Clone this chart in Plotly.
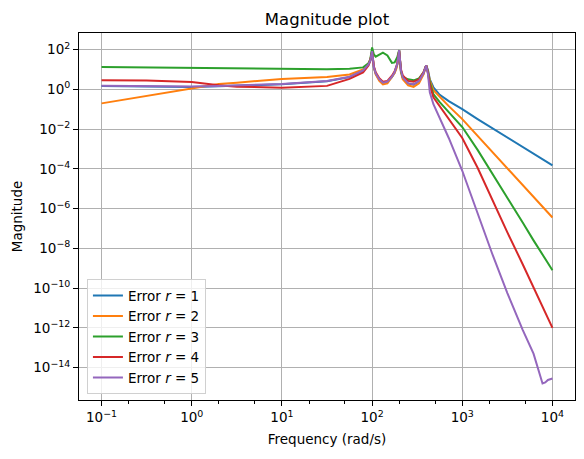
import plotly.graph_objects as go

# log10 of frequency (rad/s) at which values were read
log_freq = [-1, -0.5, 0, 0.3, 0.5, 1.0, 1.5, 1.75, 1.9, 1.96,
            1.98, 2.0, 2.02, 2.04, 2.08, 2.12, 2.17, 2.22, 2.25, 2.27,
            2.28, 2.30, 2.32, 2.34, 2.40, 2.46, 2.52, 2.57, 2.58, 2.60,
            2.62, 2.64, 2.68, 2.75, 2.85, 3.0, 3.17, 3.33, 3.5, 3.67,
            3.79, 3.84, 3.87, 3.89, 3.92, 3.95, 4.0]

# log10 of error magnitude for each reduced order r
err_r1_log = [0.16, 0.14, 0.12, 0.15, 0.17, 0.25, 0.40, 0.61, 0.93, 1.23,
              1.43, 1.90, 1.08, 0.78, 0.48, 0.31, 0.36, 0.61, 0.84, 1.08,
              1.26, 1.95, 0.93, 0.58, 0.28, 0.23, 0.40, 0.78, 0.90, 1.20,
              0.95, 0.50, 0.10, -0.28, -0.60, -1.0, -1.5, -1.95, -2.42, -2.9,
              -3.22, -3.36, -3.45, -3.5, -3.6, -3.68, -3.83]
err_r2_log = [-0.71, -0.32, 0.06, 0.27, 0.33, 0.52, 0.62, 0.74, 1.0, 1.3,
              1.5, 1.9, 1.1, 0.75, 0.42, 0.25, 0.30, 0.60, 0.82, 1.05,
              1.25, 1.95, 0.85, 0.5, 0.2, 0.12, 0.3, 0.75, 0.9, 1.2,
              0.9, 0.45, -0.05, -0.4, -0.85, -1.5, -2.35, -3.15, -4.0, -4.85,
              -5.4, -5.65, -5.8, -5.9, -6.05, -6.2, -6.45]
err_r3_log = [1.12, 1.10, 1.08, 1.06, 1.05, 1.02, 1.01, 1.03, 1.1, 1.3,
              1.5, 2.1, 1.75, 1.64, 1.74, 1.84, 1.7, 1.33, 1.35, 1.5,
              1.62, 1.97, 0.9, 0.62, 0.5, 0.45, 0.55, 0.85, 0.95, 1.2,
              0.85, 0.35, -0.25, -0.65, -1.15, -1.9, -3.05, -4.2, -5.45, -6.7,
              -7.6, -7.95, -8.15, -8.3, -8.5, -8.75, -9.1]
err_r4_log = [0.45, 0.44, 0.37, 0.2, 0.13, 0.08, 0.17, 0.52, 0.85, 1.2,
              1.45, 1.88, 1.15, 0.85, 0.55, 0.38, 0.42, 0.68, 0.9, 1.12,
              1.3, 1.95, 1.0, 0.7, 0.42, 0.38, 0.5, 0.85, 0.95, 1.2,
              0.8, 0.2, -0.4, -0.85, -1.45, -2.45, -3.95, -5.55, -7.2, -8.8,
              -9.95, -10.45, -10.75, -10.95, -11.25, -11.55, -12.0]
err_r5_log = [0.18, 0.16, 0.14, 0.17, 0.19, 0.27, 0.42, 0.63, 0.95, 1.25,
              1.45, 1.92, 1.1, 0.8, 0.5, 0.33, 0.38, 0.63, 0.86, 1.1,
              1.28, 1.97, 0.95, 0.6, 0.3, 0.25, 0.42, 0.8, 0.92, 1.2,
              0.75, -0.15, -0.75, -1.45, -2.45, -4.1, -6.25, -8.25, -10.25, -12.1,
              -13.3, -14.0, -14.5, -14.8, -14.75, -14.62, -14.55]

series_names = ["Error <i>r</i> = 1", "Error <i>r</i> = 2", "Error <i>r</i> = 3",
                "Error <i>r</i> = 4", "Error <i>r</i> = 5"]
colors = ["#1f77b4", "#ff7f0e", "#2ca02c", "#d62728", "#9467bd"]

x_tickvals = [1e-1, 1e0, 1e1, 1e2, 1e3, 1e4]
x_ticktext = ["10<sup>−1</sup>", "10<sup>0</sup>", "10<sup>1</sup>",
              "10<sup>2</sup>", "10<sup>3</sup>", "10<sup>4</sup>"]
y_tickvals = [1e2, 1e0, 1e-2, 1e-4, 1e-6, 1e-8, 1e-10, 1e-12, 1e-14]
y_ticktext = ["10<sup>2</sup>", "10<sup>0</sup>", "10<sup>−2</sup>", "10<sup>−4</sup>",
              "10<sup>−6</sup>", "10<sup>−8</sup>", "10<sup>−10</sup>",
              "10<sup>−12</sup>", "10<sup>−14</sup>"]

freq = [10 ** v for v in log_freq]
all_series = [err_r1_log, err_r2_log, err_r3_log, err_r4_log, err_r5_log]

font_family = "DejaVu Sans"
fig = go.Figure()
for vals, name, col in zip(all_series, series_names, colors):
    fig.add_trace(go.Scatter(
        x=freq, y=[10 ** v for v in vals], mode="lines", name=name,
        line=dict(color=col, width=2)))

axis_common = dict(
    type="log", showgrid=True, gridcolor="#b0b0b0", gridwidth=1,
    showline=True, linecolor="black", linewidth=1, mirror=True,
    ticks="outside", ticklen=5, tickcolor="black", tickwidth=1,
    zeroline=False, automargin=False,
    tickfont=dict(family=font_family, size=13.5, color="black"),
)

fig.update_layout(
    width=584, height=459,
    margin=dict(l=79, r=9, t=33, b=59),
    paper_bgcolor="white", plot_bgcolor="white",
    font=dict(family=font_family, size=13.5, color="black"),
    title=dict(text="Magnitude plot", x=0.5, xref="paper", y=1 - 19 / 459,
               yref="container", xanchor="center", yanchor="middle",
               font=dict(family=font_family, size=16.5, color="black")),
    xaxis=dict(axis_common, range=[-1.25, 4.25], tickvals=x_tickvals,
               ticktext=x_ticktext,
               minor=dict(ticks="outside", ticklen=3, tickcolor="black", showgrid=False),
               title=dict(text="Frequency (rad/s)", standoff=10,
                          font=dict(family=font_family, size=13.5))),
    yaxis=dict(axis_common, range=[-15.63, 2.83], tickvals=y_tickvals,
               ticktext=y_ticktext,
               title=dict(text="Magnitude", standoff=7,
                          font=dict(family=font_family, size=13.5))),
    legend=dict(x=0.016, y=0.016, xanchor="left", yanchor="bottom",
                bgcolor="rgba(255,255,255,0.8)", bordercolor="#d0d0d0",
                borderwidth=1, font=dict(family=font_family, size=13.5),
                itemwidth=30, tracegroupgap=0),
    showlegend=True,
)

fig.write_html("out.html", config={"displayModeBar": False},
               post_script="document.body.style.margin='0';document.body.style.overflow='hidden';")
